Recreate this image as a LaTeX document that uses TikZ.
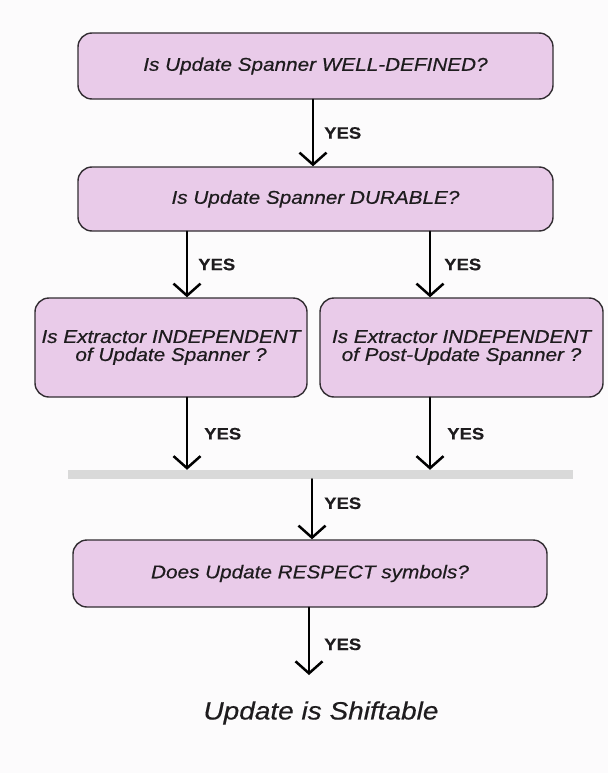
\documentclass[tikz,border=0pt]{standalone}
\usepackage{fontspec}
\setmainfont{Liberation Sans}[FakeStretch=1.12, FakeBold=0.5]
\usetikzlibrary{arrows.meta}
\definecolor{boxfill}{RGB}{233,203,233}
\definecolor{boxline}{RGB}{50,45,50}
\definecolor{bargray}{RGB}{217,217,217}
\definecolor{pagebg}{RGB}{252,251,252}
\definecolor{ink}{RGB}{30,28,30}
\tikzset{
	qbox/.style={draw=boxline, line width=1.4pt, fill=boxfill, rounded corners=14pt,
		inner sep=0pt, align=center, text=ink,
		font=\fontsize{18.5}{18}\selectfont\itshape},
	yesarrow/.style={line width=2.5pt, -{Straight Barb[length=12pt, width=27pt, line width=2.5pt]}},
	yes/.style={right, inner sep=0pt, font=\fontsize{16.5}{17}\selectfont\bfseries, text=ink}
}
\begin{document}
\begin{tikzpicture}[x=1pt, y=-1pt, line join=round, line cap=round]
	% Nen va khung hinh
	\fill[pagebg] (0,0) rectangle (608,773);
	\useasboundingbox (0,0) rectangle (608,773);
	% Cac hop cau hoi
	\node[qbox, minimum width=475, minimum height=66] (wellDef) at (315.5,66) {Is Update Spanner WELL-DEFINED?};
	\node[qbox, minimum width=475, minimum height=64] (durable) at (315.5,199) {Is Update Spanner DURABLE?};
	\node[qbox, minimum width=272, minimum height=99] (indepU) at (171,347.5) {Is Extractor INDEPENDENT\\of Update Spanner ?};
	\node[qbox, minimum width=283, minimum height=99] (indepP) at (461.5,347.5) {Is Extractor INDEPENDENT\\of Post-Update Spanner ?};
	\node[fill=bargray, inner sep=0pt, minimum width=505, minimum height=9] (bar) at (320.5,474.5) {};
	\node[qbox, minimum width=474, minimum height=67] (respect) at (310,573.5) {Does Update RESPECT symbols?};
	\node[text=ink, font=\fontsize{25}{26}\selectfont\itshape] (shift) at (321,713) {Update is Shiftable};
	% Cac mui ten YES
	\draw[yesarrow] (313,0 |- wellDef.south) -- node[yes, xshift=10pt] (y1) {YES} (313,0 |- durable.north);
	\draw[yesarrow] (187,0 |- durable.south) -- node[yes, xshift=10pt] (y2) {YES} (187,0 |- indepU.north);
	\draw[yesarrow] (430,0 |- durable.south) -- node[yes, xshift=13pt] (y3) {YES} (430,0 |- indepP.north);
	\draw[yesarrow] (187,0 |- indepU.south) -- node[yes, xshift=16pt] (y4) {YES} (187,0 |- bar.north);
	\draw[yesarrow] (430,0 |- indepP.south) -- node[yes, xshift=16pt] (y5) {YES} (430,0 |- bar.north);
	\draw[yesarrow] (312,0 |- bar.south) -- node[yes, xshift=11pt, yshift=6pt] (y6) {YES} (312,0 |- respect.north);
	\draw[yesarrow] (309,0 |- respect.south) -- node[yes, xshift=14pt, yshift=-3pt] (y7) {YES} (309,675);
\end{tikzpicture}
\end{document}
